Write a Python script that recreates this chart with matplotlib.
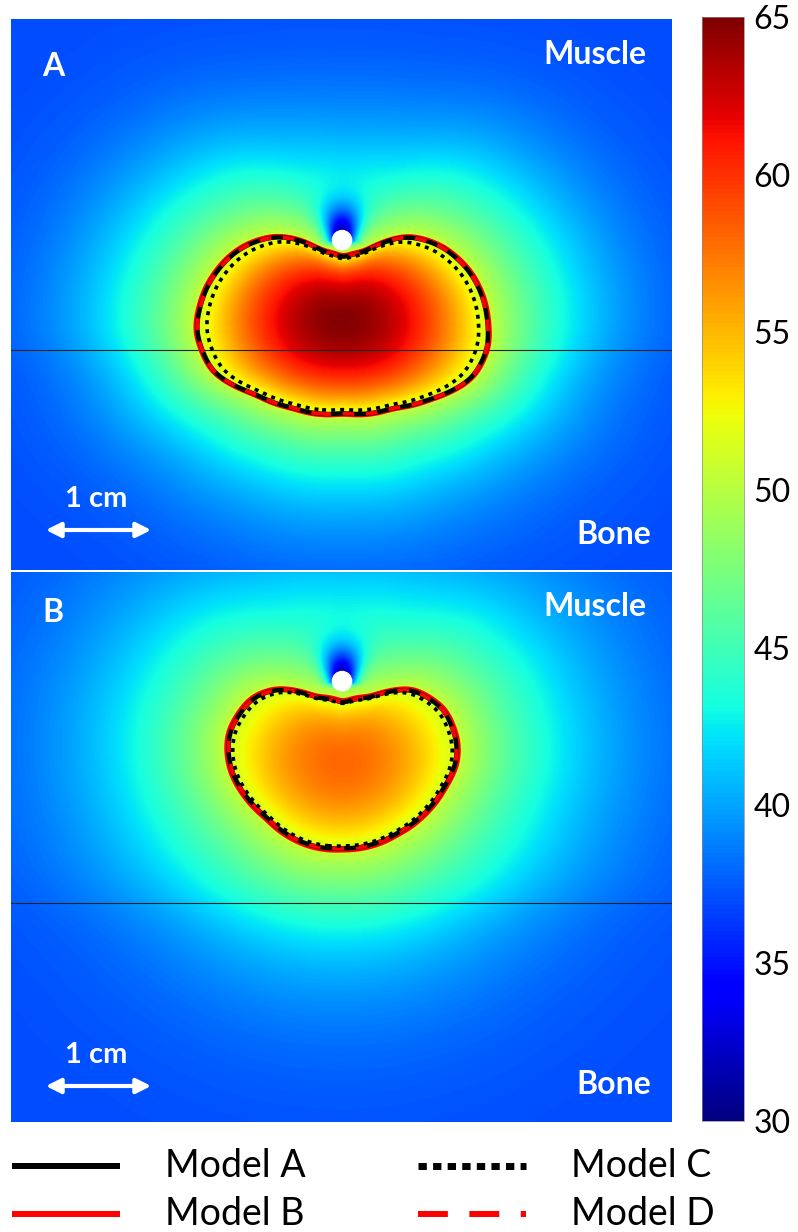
import numpy as np
import matplotlib.pyplot as plt
from matplotlib.lines import Line2D
from matplotlib.patches import FancyArrowPatch

plt.rcParams['font.family'] = ['Lato', 'DejaVu Sans']

# colour scale (deg C)
t_min, t_max = 30, 65
cbar_ticks = [30, 35, 40, 45, 50, 55, 60, 65]
t_body = 37.0
t_probe = 30.0

# panel A: ablation zone outline (cm, probe at 0,0)
a_bx = [1.36, 1.32, 1.20, 0.94, 0.61, 0.38, 0.20, 0.01, -0.18, -0.36, -0.61, -0.89,
        -1.05, -1.26, -1.36, -1.21, -0.81, -0.46, 0.01, 0.48, 0.82, 1.22, 1.36]
a_by = [-0.81, -0.56, -0.31, -0.07, 0.03, -0.03, -0.12, -0.17, -0.11, -0.02, 0.03, -0.05,
        -0.16, -0.44, -0.84, -1.22, -1.43, -1.56, -1.61, -1.56, -1.48, -1.28, -1.00]
a_hot = (0.0, -0.75)
a_peak = 64.8
a_edge = 51.0
a_decay = (0.96, 1.9, 0.75)   # near, far, bone factor
a_bone = -1.03
a_ylim = (-3.08, 2.07)

# panel B
b_bx = [1.07, 0.95, 0.79, 0.64, 0.45, 0.26, 0.01, -0.24, -0.42, -0.61, -0.83, -0.95,
        -1.05, -1.06, -1.02, -0.89, -0.70, -0.46, -0.21, 0.01, 0.26, 0.51, 0.76, 0.95, 1.06]
b_by = [-0.58, -0.27, -0.15, -0.08, -0.10, -0.16, -0.21, -0.16, -0.10, -0.08, -0.16, -0.30,
        -0.49, -0.68, -0.86, -1.08, -1.27, -1.46, -1.55, -1.56, -1.53, -1.42, -1.24, -0.99, -0.77]
b_hot = (0.0, -0.75)
b_peak = 58.0
b_edge = 51.0
b_decay = (1.10, 2.6, 0.8)
b_bone = -2.07
b_ylim = (-4.12, 1.02)

x_lim = (-3.09, 3.08)

models = ['Model A', 'Model B', 'Model C', 'Model D']
levels_a = [51.0, 50.75, 52.3, 51.0]
levels_b = [51.0, 50.75, 51.4, 51.0]


def polar_outline(th, bx, by, hot, width):
    bx = np.asarray(bx)
    by = np.asarray(by)
    ang = np.arctan2(by - hot[1], bx - hot[0])
    rad = np.hypot(bx - hot[0], by - hot[1])
    o = np.argsort(ang)
    R = np.interp(th, ang[o], rad[o], period=2 * np.pi)
    n = 4 * width
    k = np.exp(-0.5 * (np.arange(-n, n + 1) / width) ** 2)
    k /= k.sum()
    return np.convolve(np.concatenate([R[-n:], R, R[:n]]), k, mode='valid')


def temp_field(X, Y, bx, by, hot, peak, edge, decay, bone):
    th = np.linspace(-np.pi, np.pi, 721)[:-1]
    R = polar_outline(th, bx, by, hot, 7)
    Rs = polar_outline(th, bx, by, hot, 50)
    theta = np.arctan2(Y - hot[1], X - hot[0])
    r = np.hypot(X - hot[0], Y - hot[1])
    Rg = np.interp(theta, th, R, period=2 * np.pi)
    Rsg = np.interp(theta, th, Rs, period=2 * np.pi)
    rho = r / Rg
    b = np.clip(rho, 0, 1) ** 4
    rho_in = (r / Rsg) * (1 - b) + rho * b
    inside = edge + (peak - edge) * np.clip(1 - rho_in ** 2, 0, None)
    lam, far, lo = decay
    fac = lo + (1 - lo) / (1 + np.exp(-(Y - bone) / 0.15))
    d = np.clip((rho - 1) * Rg, 0, None)
    outside = t_body + (edge - t_body) * np.exp(-d / (lam * fac) - (d / far) ** 3)
    T = np.where(rho < 1, inside, outside)
    # cooled probe
    sx = 0.13 + 0.3 * np.clip(Y, 0, None)
    wy = np.where(Y >= 0, np.exp(-(Y / 0.33) ** 2), np.exp(-(Y / 0.04) ** 2))
    w = np.exp(-(X / sx) ** 2) * wy
    return T * (1 - w) + t_probe * w


W, H = 798, 1232
fig = plt.figure(figsize=(W / 100, H / 100), dpi=100)


def fx(px):
    return px / W


def fy(py):
    return 1 - py / H


panels = [
    (a_bx, a_by, a_hot, a_peak, a_edge, a_decay, a_bone, a_ylim, levels_a, 18.5, 570),
    (b_bx, b_by, b_hot, b_peak, b_edge, b_decay, b_bone, b_ylim, levels_b, 572, 1122),
]

styles = {
    'Model A': dict(colors='black', linewidths=3.2, linestyles='solid'),
    'Model B': dict(colors='#ff0000', linewidths=3.0, linestyles='solid'),
    'Model C': dict(colors='black', linewidths=2.6, linestyles=[(0, (1.1, 1.4))]),
    'Model D': dict(colors='#ff0000', linewidths=2.8, linestyles=[(0, (3.0, 3.0))]),
}
draw_order = ['Model B', 'Model A', 'Model D', 'Model C']

for bx, by, hot, peak, edge, decay, bone, ylim, levels, top, bot in panels:
    ax = fig.add_axes([fx(11), fy(bot), fx(661), (bot - top) / H])
    xs = np.linspace(x_lim[0], x_lim[1], 700)
    ys = np.linspace(ylim[0], ylim[1], 600)
    X, Y = np.meshgrid(xs, ys)
    T = temp_field(X, Y, bx, by, hot, peak, edge, decay, bone)
    im = ax.imshow(T, extent=[x_lim[0], x_lim[1], ylim[0], ylim[1]], origin='lower',
                   cmap='jet', vmin=t_min, vmax=t_max, aspect='auto', interpolation='bilinear')
    ax.axhline(bone, color='#222222', lw=0.8)
    for m in draw_order:
        lev = levels[models.index(m)]
        ax.contour(X, Y, T, levels=[lev], **styles[m])
    ax.add_patch(plt.Circle((0, 0), 0.09, color='white', zorder=5))
    ax.set_xlim(x_lim)
    ax.set_ylim(ylim)
    ax.axis('off')

# panel labels
txt = dict(color='white', fontweight='bold', va='center')
fig.text(fx(42), fy(66), 'A', fontsize=23, ha='left', **txt)
fig.text(fx(646), fy(55), 'Muscle', fontsize=23, ha='right', **txt)
fig.text(fx(651), fy(535), 'Bone', fontsize=23, ha='right', **txt)
fig.text(fx(96), fy(499), '1 cm', fontsize=21, ha='center', **txt)
fig.text(fx(42), fy(612), 'B', fontsize=23, ha='left', **txt)
fig.text(fx(646), fy(607), 'Muscle', fontsize=23, ha='right', **txt)
fig.text(fx(651), fy(1085), 'Bone', fontsize=23, ha='right', **txt)
fig.text(fx(96), fy(1055), '1 cm', fontsize=21, ha='center', **txt)
for ya in (530, 1086):
    fig.add_artist(FancyArrowPatch(
        (fx(43), fy(ya)), (fx(154), fy(ya)), transform=fig.transFigure,
        arrowstyle='<|-|>', mutation_scale=22, color='white', lw=3))

# colour bar
cax = fig.add_axes([fx(702), fy(1120.7), fx(41.5), (1120.7 - 17) / H])
cb = fig.colorbar(im, cax=cax, ticks=cbar_ticks)
cb.ax.tick_params(length=0, labelsize=23, pad=7)
cb.outline.set_linewidth(0.5)
cb.outline.set_edgecolor('#888888')

# legend
leg = {
    'Model A': (12, 1166, dict(color='black', lw=4.3, solid_capstyle='butt')),
    'Model B': (12, 1214, dict(color='#ff0000', lw=4.3, solid_capstyle='butt')),
    'Model C': (418, 1166, dict(color='black', lw=5, ls=(0, (1.2, 0.9)), dash_capstyle='butt')),
    'Model D': (418, 1214, dict(color='#ff0000', lw=4.3, ls=(0, (5.0, 3.6)), dash_capstyle='butt')),
}
for m in models:
    x0, y0, st = leg[m]
    fig.add_artist(Line2D([fx(x0), fx(x0 + 108)], [fy(y0), fy(y0)], transform=fig.transFigure, **st))
    fig.text(fx(x0 + 153), fy(y0), m, fontsize=27, ha='left', va='center')

fig.savefig('out.png', dpi=100)
